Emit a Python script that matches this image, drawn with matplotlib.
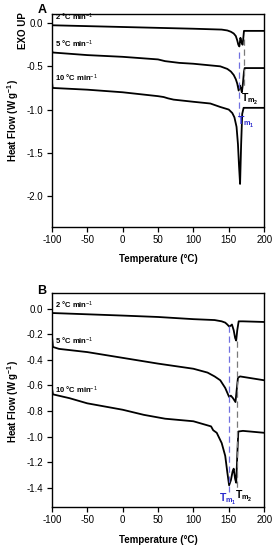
#!/usr/bin/env python3
"""DSC heating curves at three rates, two samples (panels A and B)."""

import matplotlib
matplotlib.use("Agg")
import matplotlib.pyplot as plt

plt.rcParams["font.family"] = ["Liberation Sans", "DejaVu Sans"]
plt.rcParams["mathtext.fontset"] = "custom"
plt.rcParams["mathtext.rm"] = "Liberation Sans"
plt.rcParams["mathtext.bf"] = "Liberation Sans:bold"
plt.rcParams["mathtext.it"] = "Liberation Sans:italic"
plt.rcParams["axes.unicode_minus"] = False

rate_labels = ["2 °C min$^{-1}$", "5 °C min$^{-1}$", "10 °C min$^{-1}$"]

# ---- panel A: temperature (°C) and heat flow (W/g) ----
a_T_2 = [-100, -50, 0, 50, 100, 140, 148, 153, 157, 160, 162, 163.5, 165, 166.5,
         168, 169.5, 170.5, 171.5, 173, 200]
a_hf_2 = [-0.025, -0.035, -0.045, -0.055, -0.065, -0.075, -0.085, -0.1, -0.12,
          -0.15, -0.2, -0.25, -0.27, -0.17, -0.22, -0.25, -0.18, -0.09, -0.09, -0.09]

a_T_5 = [-100, -99, -50, 0, 50, 60, 80, 100, 138, 148, 153, 157, 160, 162, 164,
         165.5, 167, 168.5, 170, 171.5, 172.5, 200]
a_hf_5 = [-0.31, -0.34, -0.37, -0.39, -0.42, -0.44, -0.46, -0.47, -0.50, -0.53,
          -0.56, -0.60, -0.65, -0.70, -0.78, -0.72, -0.75, -0.80, -0.70, -0.56, -0.52, -0.52]

a_T_10 = [-100, -99, -50, 0, 50, 58, 64, 72, 100, 124, 138, 150, 155, 158, 161,
          163, 164.5, 166, 167.5, 169, 171, 173, 200]
a_hf_10 = [-0.67, -0.75, -0.77, -0.80, -0.845, -0.855, -0.87, -0.885, -0.91,
           -0.93, -0.97, -1.0, -1.04, -1.09, -1.2, -1.4, -1.65, -1.86, -1.4,
           -1.05, -0.98, -0.98, -0.98]

# ---- panel B ----
b_T_2 = [-100, -50, 0, 50, 100, 130, 140, 145, 148, 150.5, 152.5, 154.5, 157,
         159, 160.5, 162, 164, 170, 200]
b_hf_2 = [-0.035, -0.045, -0.055, -0.066, -0.083, -0.09, -0.1, -0.11, -0.125,
          -0.14, -0.135, -0.125, -0.17, -0.23, -0.25, -0.17, -0.10, -0.10, -0.105]

b_T_5 = [-100, -98.5, -90, -50, 0, 50, 100, 120, 130, 138, 145, 150.5, 153,
         156, 159.5, 161.5, 163, 166, 200]
b_hf_5 = [-0.21, -0.30, -0.315, -0.34, -0.385, -0.43, -0.47, -0.50, -0.53,
          -0.56, -0.62, -0.69, -0.68, -0.70, -0.73, -0.62, -0.54, -0.53, -0.56]

b_T_10 = [-100, -98.5, -75, -50, 0, 30, 60, 100, 125, 128, 133, 140, 145, 148,
          150.5, 153, 155.5, 157, 159, 160.5, 162, 163.5, 170, 200]
b_hf_10 = [-0.62, -0.67, -0.70, -0.74, -0.79, -0.83, -0.86, -0.88, -0.92,
           -0.95, -0.97, -1.05, -1.15, -1.28, -1.38, -1.34, -1.27, -1.25, -1.33,
           -1.36, -1.15, -0.96, -0.955, -0.97]

# melting peak markers: (temperature, y top, y bottom)
a_tm1 = (165.0, -0.34, -1.09)
a_tm2 = (171.5, -0.18, -0.74)
b_tm1 = (150.5, -0.14, -1.43)
b_tm2 = (161.0, -0.25, -1.41)

BLUE_DASH = "#7070e0"
GREY_DASH = "#7a7a7a"
BLUE_TXT = "#2a2acc"


def style_axis(ax, ylim, yticks):
    ax.set_xlim(-100, 200)
    ax.set_ylim(*ylim)
    ax.set_xticks([-100, -50, 0, 50, 100, 150, 200])
    ax.set_yticks(yticks)
    ax.set_yticklabels(["{:.1f}".format(v) for v in yticks])
    ax.tick_params(direction="out", length=3.5, width=0.9, labelsize=7, pad=2)
    ax.tick_params(axis="y", pad=3)
    for s in ax.spines.values():
        s.set_linewidth(1.0)


fig = plt.figure(figsize=(2.76, 5.5), dpi=100)

axA = fig.add_axes([0.188, 0.587, 0.769, 0.3875])
for T, hf in [(a_T_2, a_hf_2), (a_T_5, a_hf_5), (a_T_10, a_hf_10)]:
    axA.plot(T, hf, color="black", lw=1.3)
axA.plot([a_tm1[0]] * 2, a_tm1[1:], color=BLUE_DASH, lw=0.9, ls=(0, (5, 3)))
axA.plot([a_tm2[0]] * 2, a_tm2[1:], color=GREY_DASH, lw=0.9, ls=(0, (5, 3)))
style_axis(axA, (-2.36, 0.105), [0.0, -0.5, -1.0, -1.5, -2.0])
for lab, y in zip(rate_labels, [0.0, -0.31, -0.70]):
    axA.text(-95, y, lab, fontsize=5.5, fontweight="bold", va="bottom", ha="left")
axA.text(167, -0.88, r"T$_{\mathbf{m_2}}$", fontsize=7.5, fontweight="bold",
         va="center", ha="left")
axA.text(161.5, -1.15, r"T$_{\mathbf{m_1}}$", fontsize=7.5, fontweight="bold",
         va="center", ha="left", color=BLUE_TXT)

axB = fig.add_axes([0.188, 0.078, 0.769, 0.389])
for T, hf in [(b_T_2, b_hf_2), (b_T_5, b_hf_5), (b_T_10, b_hf_10)]:
    axB.plot(T, hf, color="black", lw=1.3)
axB.plot([b_tm1[0]] * 2, b_tm1[1:], color=BLUE_DASH, lw=0.9, ls=(0, (5, 3)))
axB.plot([b_tm2[0]] * 2, b_tm2[1:], color=GREY_DASH, lw=0.9, ls=(0, (5, 3)))
style_axis(axB, (-1.55, 0.12), [0.0, -0.2, -0.4, -0.6, -0.8, -1.0, -1.2, -1.4])
for lab, y in zip(rate_labels, [-0.02, -0.30, -0.68]):
    axB.text(-95, y, lab, fontsize=5.5, fontweight="bold", va="bottom", ha="left")
axB.text(148.5, -1.49, r"T$_{\mathbf{m_1}}$", fontsize=7.5, fontweight="bold",
         va="center", ha="center", color=BLUE_TXT)
axB.text(159, -1.47, r"T$_{\mathbf{m_2}}$", fontsize=7.5, fontweight="bold",
         va="center", ha="left")

# figure-level labels (pixel positions converted to figure fraction)
W, H = 276, 550
lab_kw = dict(fontsize=7, fontweight="bold", ha="center", va="center")
fig.text(42 / W, 1 - 10 / H, "A", fontsize=9, fontweight="bold", ha="center", va="center")
fig.text(42 / W, 1 - 291 / H, "B", fontsize=9, fontweight="bold", ha="center", va="center")
fig.text(23.5 / W, 1 - 31 / H, "EXO UP", rotation=90, **lab_kw)
fig.text(13 / W, 1 - 121 / H, r"Heat Flow (W g$^{\mathbf{-1}}$)", rotation=90, **lab_kw)
fig.text(13 / W, 1 - 402 / H, r"Heat Flow (W g$^{\mathbf{-1}}$)", rotation=90, **lab_kw)
fig.text(158 / W, 1 - 259 / H, "Temperature (°C)", **lab_kw)
fig.text(158 / W, 1 - 540 / H, "Temperature (°C)", **lab_kw)

fig.savefig("out.png", dpi=100)
plt.close(fig)
